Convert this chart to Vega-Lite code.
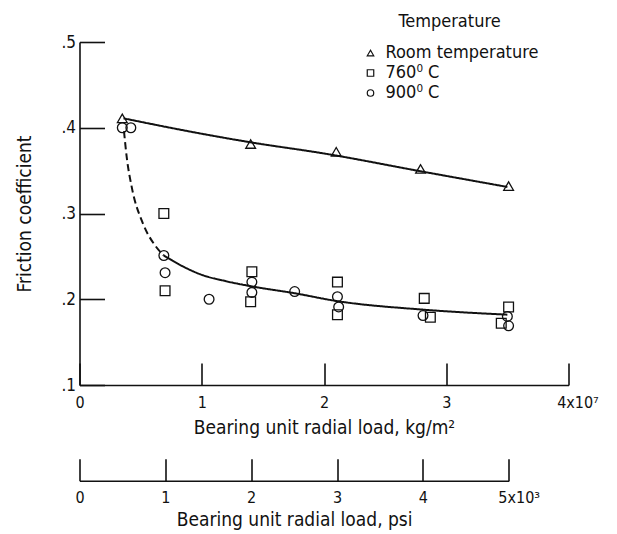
{
  "$schema": "https://vega.github.io/schema/vega-lite/v6.json",
  "width": 489,
  "height": 343,
  "autosize": {"type": "none"},
  "padding": {"left": 79.5, "top": 42, "right": 48.5, "bottom": 149},
  "background": "white",
  "config": {
    "view": {"stroke": null},
    "font": "DejaVu Sans Condensed, Liberation Sans Narrow, DejaVu Sans",
    "axis": {"domainColor": "#111", "tickColor": "#111", "labelColor": "#111", "titleColor": "#111", "domainWidth": 1.6, "tickWidth": 1.6, "grid": false, "titleFontWeight": "normal", "labelFlush": false},
    "legend": {"titleFontWeight": "normal"}
  },
  "datasets": {
    "points": [
      {"load": 0.35, "friction": 0.411, "temp": "Room temperature"},
      {"load": 1.40, "friction": 0.381, "temp": "Room temperature"},
      {"load": 2.10, "friction": 0.372, "temp": "Room temperature"},
      {"load": 2.79, "friction": 0.352, "temp": "Room temperature"},
      {"load": 3.51, "friction": 0.332, "temp": "Room temperature"},
      {"load": 0.69, "friction": 0.300, "temp": "760⁰ C"},
      {"load": 0.70, "friction": 0.210, "temp": "760⁰ C"},
      {"load": 1.41, "friction": 0.232, "temp": "760⁰ C"},
      {"load": 1.40, "friction": 0.197, "temp": "760⁰ C"},
      {"load": 2.11, "friction": 0.220, "temp": "760⁰ C"},
      {"load": 2.11, "friction": 0.182, "temp": "760⁰ C"},
      {"load": 2.82, "friction": 0.201, "temp": "760⁰ C"},
      {"load": 2.87, "friction": 0.179, "temp": "760⁰ C"},
      {"load": 3.51, "friction": 0.191, "temp": "760⁰ C"},
      {"load": 3.45, "friction": 0.172, "temp": "760⁰ C"},
      {"load": 0.35, "friction": 0.400, "temp": "900⁰ C"},
      {"load": 0.42, "friction": 0.400, "temp": "900⁰ C"},
      {"load": 0.69, "friction": 0.251, "temp": "900⁰ C"},
      {"load": 0.70, "friction": 0.231, "temp": "900⁰ C"},
      {"load": 1.06, "friction": 0.200, "temp": "900⁰ C"},
      {"load": 1.41, "friction": 0.220, "temp": "900⁰ C"},
      {"load": 1.41, "friction": 0.208, "temp": "900⁰ C"},
      {"load": 1.76, "friction": 0.209, "temp": "900⁰ C"},
      {"load": 2.11, "friction": 0.203, "temp": "900⁰ C"},
      {"load": 2.12, "friction": 0.191, "temp": "900⁰ C"},
      {"load": 2.81, "friction": 0.181, "temp": "900⁰ C"},
      {"load": 3.50, "friction": 0.180, "temp": "900⁰ C"},
      {"load": 3.51, "friction": 0.169, "temp": "900⁰ C"}
    ],
    "curves": [
      {"load": 0.36, "friction": 0.411, "series": "room", "style": "solid"},
      {"load": 1.00, "friction": 0.393, "series": "room", "style": "solid"},
      {"load": 1.40, "friction": 0.383, "series": "room", "style": "solid"},
      {"load": 2.00, "friction": 0.370, "series": "room", "style": "solid"},
      {"load": 2.80, "friction": 0.349, "series": "room", "style": "solid"},
      {"load": 3.50, "friction": 0.331, "series": "room", "style": "solid"},
      {"load": 0.364, "friction": 0.396, "series": "hotdash", "style": "dashed"},
      {"load": 0.386, "friction": 0.366, "series": "hotdash", "style": "dashed"},
      {"load": 0.427, "friction": 0.331, "series": "hotdash", "style": "dashed"},
      {"load": 0.52, "friction": 0.288, "series": "hotdash", "style": "dashed"},
      {"load": 0.617, "friction": 0.263, "series": "hotdash", "style": "dashed"},
      {"load": 0.69, "friction": 0.251, "series": "hotdash", "style": "dashed"},
      {"load": 0.69, "friction": 0.251, "series": "hot", "style": "solid"},
      {"load": 0.85, "friction": 0.238, "series": "hot", "style": "solid"},
      {"load": 0.99, "friction": 0.229, "series": "hot", "style": "solid"},
      {"load": 1.20, "friction": 0.221, "series": "hot", "style": "solid"},
      {"load": 1.41, "friction": 0.215, "series": "hot", "style": "solid"},
      {"load": 1.76, "friction": 0.207, "series": "hot", "style": "solid"},
      {"load": 2.10, "friction": 0.198, "series": "hot", "style": "solid"},
      {"load": 2.80, "friction": 0.188, "series": "hot", "style": "solid"},
      {"load": 3.50, "friction": 0.182, "series": "hot", "style": "solid"}
    ],
    "psi": [
      {"psi": 0},
      {"psi": 5}
    ]
  },
  "layer": [
    {
      "layer": [
        {
          "data": {"name": "curves"},
          "mark": {"type": "line", "color": "#111", "strokeWidth": 2, "interpolate": "monotone"},
          "encoding": {
            "x": {"field": "load", "type": "quantitative", "scale": {"domain": [0, 4], "nice": false, "zero": false},
              "axis": {"orient": "bottom", "values": [0, 1, 2, 3, 4], "tickSize": -22, "labelPadding": 31, "labelFontSize": 16,
                "labelExpr": "datum.value == 4 ? '4x10⁷' : format(datum.value, 'd')",
                "labelOffset": {"condition": {"test": "datum.value == 4", "value": 9}, "value": 0},
                "title": "Bearing unit radial load, kg/m²", "titleFontSize": 19, "titlePadding": 8}},
            "y": {"field": "friction", "type": "quantitative", "scale": {"domain": [0.1, 0.5], "nice": false, "zero": false},
              "axis": {"values": [0.1, 0.2, 0.3, 0.4, 0.5], "tickSize": -25, "labelPadding": 29, "labelFontSize": 17,
                "labelExpr": "'.' + format(datum.value * 10, 'd')",
                "title": "Friction coefficient", "titleFontSize": 19, "titlePadding": 26}},
            "detail": {"field": "series"},
            "strokeDash": {"field": "style", "type": "nominal", "scale": {"domain": ["solid", "dashed"], "range": [[1, 0], [7, 4]]}, "legend": null}
          }
        },
        {
          "data": {"name": "points"},
          "mark": {"type": "point", "filled": false, "color": "#111", "strokeWidth": 1.3, "size": 95, "opacity": 1},
          "encoding": {
            "x": {"field": "load", "type": "quantitative"},
            "y": {"field": "friction", "type": "quantitative"},
            "shape": {"field": "temp", "type": "nominal",
              "scale": {"domain": ["Room temperature", "760⁰ C", "900⁰ C"], "range": ["triangle-up", "square", "circle"]},
              "legend": {"title": "Temperature", "orient": "none", "legendX": 282, "legendY": -29, "padding": 0,
                "titleFontSize": 18, "titleAnchor": "middle", "titlePadding": 13, "labelFontSize": 18, "symbolSize": 42,
                "symbolStrokeWidth": 1.2, "symbolStrokeColor": "#111", "rowPadding": 2, "labelOffset": 6, "labelColor": "#111", "titleColor": "#111"}}
          }
        }
      ]
    },
    {
      "data": {"name": "psi"},
      "mark": {"type": "point", "opacity": 0},
      "encoding": {
        "x": {"field": "psi", "type": "quantitative", "scale": {"domain": [0, 5], "range": [0, 429.2], "nice": false, "zero": false},
          "axis": {"orient": "bottom", "offset": 95.7, "values": [0, 1, 2, 3, 4, 5], "tickSize": -22, "labelPadding": 31, "labelFontSize": 16,
            "labelExpr": "datum.value == 5 ? '5x10³' : format(datum.value, 'd')",
            "labelOffset": {"condition": {"test": "datum.value == 5", "value": 10}, "value": 0},
            "title": "Bearing unit radial load, psi", "titleFontSize": 19, "titlePadding": 5}}
      }
    }
  ],
  "resolve": {"scale": {"x": "independent"}}
}
